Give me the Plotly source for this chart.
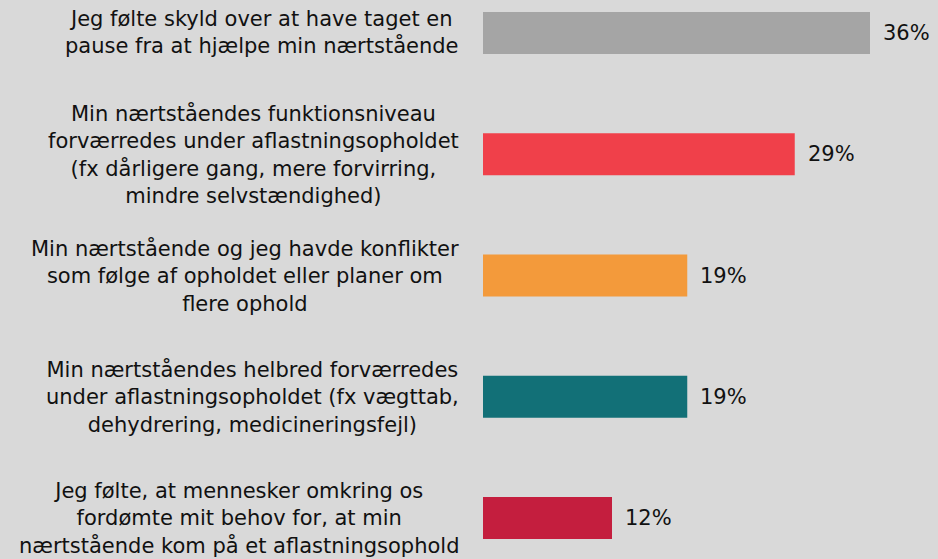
import plotly.graph_objects as go

categories = [
    "Jeg følte skyld over at have taget en<br>pause fra at hjælpe min nærtstående",
    "Min nærtståendes funktionsniveau<br>forværredes under aflastningsopholdet<br>(fx dårligere gang, mere forvirring,<br>mindre selvstændighed)",
    "Min nærtstående og jeg havde konflikter<br>som følge af opholdet eller planer om<br>flere ophold",
    "Min nærtståendes helbred forværredes<br>under aflastningsopholdet (fx vægttab,<br>dehydrering, medicineringsfejl)",
    "Jeg følte, at mennesker omkring os<br>fordømte mit behov for, at min<br>nærtstående kom på et aflastningsophold",
]
values = [36, 29, 19, 19, 12]
colors = ["#A5A5A5", "#F0404A", "#F39A3B", "#127077", "#C41E3E"]

FONT = "'DejaVu Sans', sans-serif"
ypos = list(range(len(categories)))

fig = go.Figure(go.Bar(
    x=values, y=ypos, orientation="h",
    marker=dict(color=colors, line=dict(width=0)),
    width=0.346, hoverinfo="skip",
))

annotations = []
for i, (c, v) in enumerate(zip(categories, values)):
    annotations.append(dict(
        x=0, xref="paper", y=i, yref="y", text=c, showarrow=False,
        xanchor="right", yanchor="middle", align="center", xshift=-22,
        font=dict(family=FONT, size=21, color="#111111"),
    ))
    annotations.append(dict(
        x=v, xref="x", y=i, yref="y", text=f"{v}%", showarrow=False,
        xanchor="left", yanchor="middle", xshift=11,
        font=dict(family=FONT, size=21, color="#111111"),
    ))

fig.update_layout(
    width=938, height=559,
    margin=dict(l=483, r=25, t=0, b=0),
    paper_bgcolor="#D9D9D9", plot_bgcolor="#D9D9D9",
    showlegend=False,
    xaxis=dict(range=[0, 40], visible=False, fixedrange=True),
    yaxis=dict(range=[4.338, -0.272], visible=False, fixedrange=True),
    annotations=annotations,
    font=dict(family=FONT),
)

fig.write_html(
    "out.html",
    config={"displayModeBar": False},
    post_script="document.body.style.margin='0';document.body.style.background='#D9D9D9';",
)
